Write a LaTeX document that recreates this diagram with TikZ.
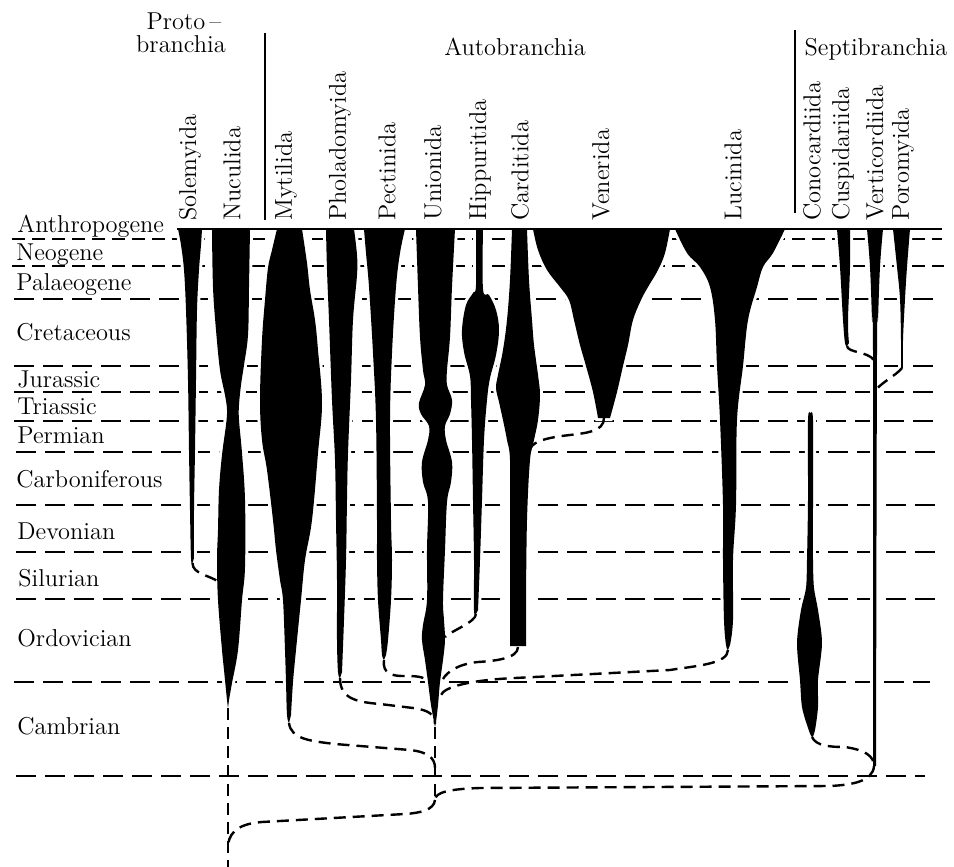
\documentclass[tikz,border=0pt]{standalone}
\usepackage{tikz}
\usetikzlibrary{positioning}

\begin{document}
\begin{tikzpicture}[x=0.5pt, y=-0.5pt,
    hdr/.style={font=\fontsize{12.2}{12}\selectfont, inner sep=0pt, anchor=base},
    era/.style={font=\fontsize{12.2}{14}\selectfont, inner sep=0pt, anchor=base west},
    order/.style={font=\fontsize{12.2}{14}\selectfont, inner sep=0pt, rotate=90, anchor=west},
    bound/.style={line width=1.4pt, dash pattern=on 10pt off 4.5pt},
    finebound/.style={line width=1.3pt, dash pattern=on 6.5pt off 3.5pt},
    spindle/.style={fill=black, preaction={draw=white, line width=3pt}},
    link/.style={line width=1.2pt, dash pattern=on 6pt off 3.5pt},
    sep/.style={line width=1pt},
]
\useasboundingbox (0,0) rectangle (954,867);

% === Period boundaries ===
\draw[finebound] (12,239) -- (942,239);
\draw[finebound] (12,266) -- (944,266);
\draw[bound] (14,299) -- (940,299);
\draw[bound] (14,366) -- (940,366);
\draw[bound] (14,392) -- (938,392);
\draw[bound] (14,421) -- (938,421);
\draw[bound] (16,452) -- (940,452);
\draw[bound] (16,505) -- (935,505);
\draw[bound] (16,552) -- (935,552);
\draw[bound] (16,599) -- (935,599);
\draw[bound] (14,682) -- (930,682);
\draw[bound] (16,776) -- (925,776);

% === Protobranchia ===
\fill[spindle] plot[smooth, tension=0.6] coordinates {(178,229) (181,245) (184,270) (186,310) (188,380) (189,450) (190,510) (191,558) (192.5,563)}
    -- plot[smooth, tension=0.6] coordinates {(194,558) (194,510) (195,450) (196,380) (197,310) (199,270) (201,245) (202,229)} -- cycle;
\fill[spindle] plot[smooth, tension=0.6] coordinates {(212,229) (213,287) (216,330) (220,370) (225,395) (227,410) (226,425) (222,455) (219,490) (218,530) (217,560) (218,600) (222,650) (224,670) (227,700) (228,708)}
    -- plot[smooth, tension=0.6] coordinates {(229,700) (232,683) (238,650) (242,600) (245,567) (245,500) (242,453) (239,420) (239,405) (241,385) (244,365) (248,335) (249,287) (250,229)} -- cycle;

% === Autobranchia ===
\fill[spindle] plot[smooth, tension=0.6] coordinates {(277,229) (272,250) (268,268) (265,300) (262,340) (260,400) (262,440) (267,470) (273,520) (276,550) (280,580) (283,600) (285,650) (286,682) (287,715) (289,723)}
    -- plot[smooth, tension=0.6] coordinates {(291,715) (293,682) (296,650) (301,600) (305,560) (312,520) (318,453) (322,403) (318,350) (315,320) (310,290) (307,263) (302,229)} -- cycle;
\fill[spindle] plot[smooth, tension=0.6] coordinates {(326,229) (327,270) (329,320) (332,400) (335,460) (336,520) (337,580) (337,640) (338,672) (340,678)}
    -- plot[smooth, tension=0.6] coordinates {(342,672) (344,620) (346,560) (347,500) (348,453) (351,380) (353,320) (357,275) (357,255) (354,229)} -- cycle;
\fill[spindle] plot[smooth, tension=0.6] coordinates {(364,229) (366,253) (369,287) (373,353) (376,420) (377,520) (377,560) (378,600) (381,640) (382,655) (384,660)}
    -- plot[smooth, tension=0.6] coordinates {(386,655) (388,640) (391,600) (392,560) (391,520) (390,420) (392,353) (396,287) (400,253) (405,229)} -- cycle;
\fill[spindle] plot[smooth, tension=0.6] coordinates {(416,229) (418,287) (420,337) (423,370) (425,385) (419,403) (421,414) (429,426) (428,440) (422,462) (423,482) (428,502) (427,550) (427,600) (423,625) (422,640) (425,660) (428,682) (431,705) (435,727)}
    -- plot[smooth, tension=0.6] coordinates {(436,722) (438,705) (440,682) (443,660) (445,640) (444,620) (443,600) (445,550) (447,502) (451,482) (452,462) (446,440) (445,426) (450,414) (452,400) (447,385) (447,370) (450,337) (452,287) (455,229)} -- cycle;
\fill[spindle] plot[smooth, tension=0.6] coordinates {(476,229) (476,285) (473,293) (466,305) (462,330) (464,352) (470,376) (471,400) (472,440) (473,500) (474,560) (474,610) (476,614)}
    -- plot[smooth, tension=0.6] coordinates {(478,610) (480,560) (482,500) (484,440) (487,400) (490,378) (496,355) (499,330) (496,310) (489,295) (483,289) (483,229)} -- cycle;
\fill[spindle] plot[smooth, tension=0.6] coordinates {(512,229) (510,280) (507,320) (503,350) (498,375) (496,388) (499,402) (503,420) (507,440) (510,460) (510,520) (510,600) (510,646)}
    -- (526,646) -- plot[smooth, tension=0.6] coordinates {(526,600) (527,520) (530,460) (534,440) (538,420) (540,395) (538,375) (534,345) (532,320) (529,280) (527,229)} -- cycle;
\fill[spindle] plot[smooth, tension=0.6] coordinates {(533,229) (538,250) (547,270) (560,287) (569,300) (574,320) (580,345) (586,366) (593,392) (598,418)}
    -- plot[smooth, tension=0.6] coordinates {(610,418) (617,392) (623,366) (628,345) (633,320) (641,300) (648,287) (658,270) (665,253) (670,229)} -- cycle;
\fill[spindle] plot[smooth, tension=0.6] coordinates {(675,229) (687,253) (700,267) (710,287) (715,320) (717,366) (720,420) (723,505) (723,560) (724,620) (726,645) (728,650)}
    -- plot[smooth, tension=0.6] coordinates {(730,645) (733,620) (733,560) (736,505) (737,420) (743,366) (748,320) (757,287) (763,267) (773,253) (785,229)} -- cycle;

% === Septibranchia ===
\fill[spindle] plot[smooth cycle, tension=0.5] coordinates {(810.5,413) (808,420) (808,500) (807,560) (806,588) (801,610) (797,643) (800,680) (802,707) (808,728) (812,737)
    (815,730) (818,707) (818,680) (822,643) (818,610) (814,588) (813,560) (813,500) (813,420)};
\fill[spindle] plot[smooth, tension=0.6] coordinates {(837,229) (840,267) (843,320) (845,343) (847,346)}
    -- plot[smooth, tension=0.6] coordinates {(849,343) (848,320) (850,267) (850,229)} -- cycle;
\fill[spindle] plot[smooth, tension=0.6] coordinates {(867,229) (870,267) (872,320) (873,353) (873,766)}
    -- plot[smooth, tension=0.6] coordinates {(876,766) (877,353) (878,320) (880,267) (883,229)} -- cycle;
\fill[spindle] plot[smooth, tension=0.6] coordinates {(893,229) (897,267) (900,299) (901,340) (901,368)}
    -- plot[smooth, tension=0.6] coordinates {(903,368) (903,340) (905,299) (907,267) (910,229)} -- cycle;

% === Ends and joins ===
\coordinate (solTip) at (192.5,563);
\coordinate (nucJoin) at (219,582);
\coordinate (nucTip) at (228,708);
\coordinate (nucLow) at (228,848);
\coordinate (nucEnd) at (228,867);
\coordinate (mytTip) at (289,723);
\coordinate (phoTip) at (340,678);
\coordinate (pecTip) at (384,660);
\coordinate (uniTip) at (435,727);
\coordinate (uniPec) at (429,682);
\coordinate (uniHip) at (445,637);
\coordinate (uniCar) at (443,679);
\coordinate (uniLuc) at (441,695);
\coordinate (uniPho) at (435,724);
\coordinate (uniMyt) at (435,768);
\coordinate (uniBot) at (435,800);
\coordinate (hipTip) at (476,614);
\coordinate (carTip) at (518,647);
\coordinate (carJoin) at (530,451);
\coordinate (venTip) at (604,418);
\coordinate (lucTip) at (728,650);
\coordinate (conTip) at (812,737);
\coordinate (cusTip) at (847,346);
\coordinate (porTip) at (902,368);
\coordinate (verCus) at (874,360);
\coordinate (verPor) at (875,392);
\coordinate (verTip) at (874,766);

% === Dashed links ===
\draw[link] (solTip) .. controls +(0,11) and +(-10,-7) .. (nucJoin);
\draw[link] (nucTip) -- (nucEnd);
\draw[link] (uniTip) -- (uniBot);
\draw[link] (mytTip) .. controls +(2,16) and +(-25,-3) .. (335,744) -- (410,750) .. controls +(18,2) and +(0,-10) .. (uniMyt);
\draw[link] (phoTip) .. controls +(0,20) and +(-25,-2) .. (380,704) -- (413,708) .. controls +(15,2) and +(0,-10) .. (uniPho);
\draw[link] (pecTip) .. controls +(-2,14) and +(-10,0) .. (403,676) .. controls +(12,0) and +(-5,-6) .. (uniPec);
\draw[link] (hipTip) .. controls +(0,8) and +(6,-6) .. (uniHip);
\draw[link] (carTip) .. controls +(0,12) and +(15,-1) .. (478,662) .. controls +(-20,2) and +(4,-7) .. (uniCar);
\draw[link] (lucTip) .. controls +(0,14) and +(25,-4) .. (670,670) -- (515,678) .. controls +(-45,2) and +(3,-8) .. (uniLuc);
\draw[link] (venTip) .. controls +(0,14) and +(15,-2) .. (570,435) .. controls +(-28,3) and +(0,-8) .. (carJoin);
\draw[link] (cusTip) .. controls +(1,7) and +(-7,-9) .. (verCus);
\draw[link] (porTip) .. controls +(-5,7) and +(2,-7) .. (verPor);
\draw[link] (conTip) .. controls +(4,9) and +(-15,0) .. (845,747) .. controls +(20,3) and +(0,-10) .. (verTip);
\draw[link] (verTip) .. controls +(-1,16) and +(20,-1) .. (830,786) -- (480,788) .. controls +(-30,1) and +(0,-8) .. (uniBot);
\draw[link] (uniBot) .. controls +(-1,10) and +(15,-1) .. (405,814) -- (262,822) .. controls +(-28,2) and +(0,-12) .. (nucLow);

% === Present day ===
\draw[line width=1.3pt] (177,229) -- (942,229);

% === Periods ===
\node[era] (eAnthro) at (17,232) {Anthropogene};
\node[era] (eNeo) at (16,260) {Neogene};
\node[era] (ePalaeo) at (16,290) {Palaeogene};
\node[era] (eCret) at (16,340) {Cretaceous};
\node[era] (eJur) at (17,387) {Jurassic};
\node[era] (eTri) at (17,414) {Triassic};
\node[era] (ePerm) at (17,443) {Permian};
\node[era] (eCarb) at (16,487) {Carboniferous};
\node[era] (eDev) at (17,539) {Devonian};
\node[era] (eSil) at (18,586) {Silurian};
\node[era] (eOrd) at (17,646) {Ordovician};
\node[era] (eCamb) at (17,734) {Cambrian};

% === Subclasses ===
\node[hdr] (proto) at (184,29) {Proto\,--};
\node[hdr] (branchia) at (181,53) {branchia};
\node[hdr] (auto) at (515,55) {Autobranchia};
\node[hdr] (septi) at (876,55) {Septibranchia};
\draw[sep] (265,33) -- (265,220);
\draw[sep] (795,30) -- (795,213);

% === Orders ===
\node[order] (oSol) at (190,221) {Solemyida};
\node[order] (oNuc) at (232,221) {Nuculida};
\node[order] (oMyt) at (286,221) {Mytilida};
\node[order] (oPho) at (340,221) {Pholadomyida};
\node[order] (oPec) at (387,221) {Pectinida};
\node[order] (oUni) at (433,221) {Unionida};
\node[order] (oHip) at (480,221) {Hippuritida};
\node[order] (oCar) at (520,221) {Carditida};
\node[order] (oVen) at (601,221) {Venerida};
\node[order] (oLuc) at (733,221) {Lucinida};
\node[order] (oCon) at (812,221) {Conocardiida};
\node[order] (oCus) at (843,221) {Cuspidariida};
\node[order] (oVer) at (875,221) {Verticordiida};
\node[order] (oPor) at (903,221) {Poromyida};

\end{tikzpicture}
\end{document}
